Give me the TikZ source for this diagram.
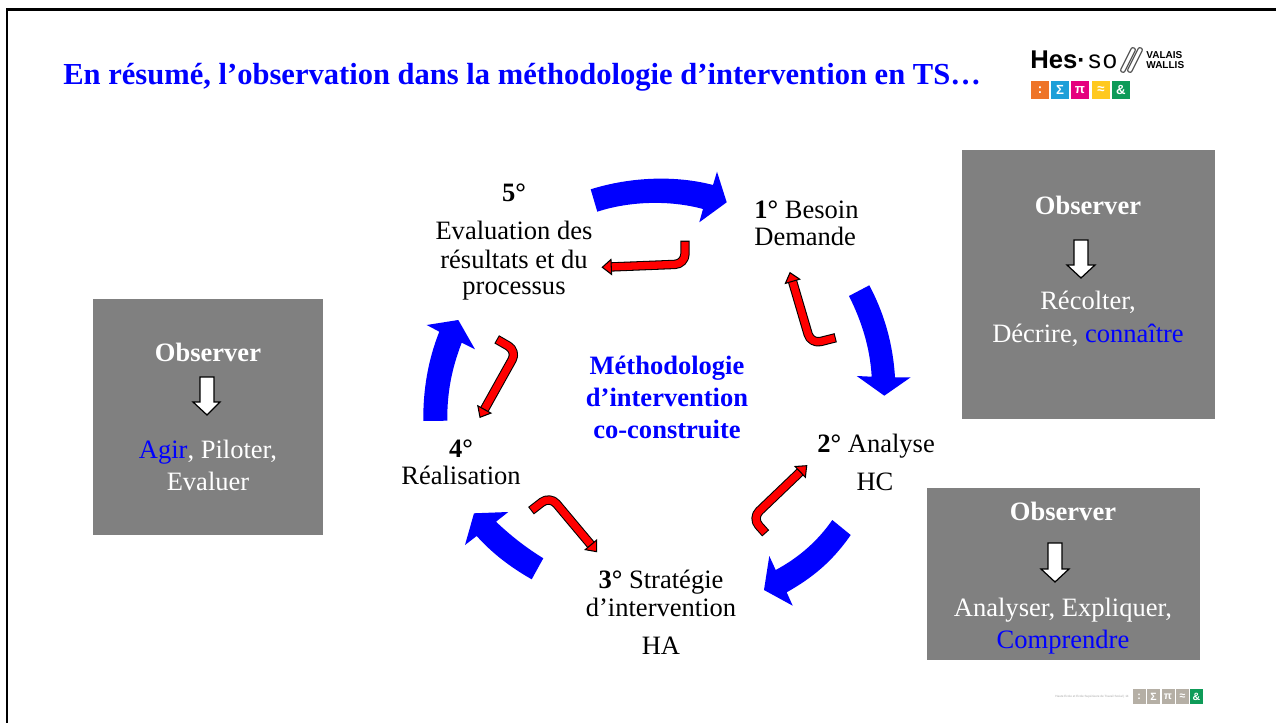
\documentclass[tikz,border=0pt]{standalone}
\usepackage{fontspec}
\setmainfont{Liberation Serif}
\newfontfamily\logofont{Liberation Sans}
\newfontfamily\logowide[LetterSpace=7]{Liberation Sans}
\usetikzlibrary{calc}
\definecolor{boxgray}{HTML}{808080}
\definecolor{pureblue}{HTML}{0000FF}
\definecolor{lo}{HTML}{EE7428}
\definecolor{lb}{HTML}{1E9FD8}
\definecolor{lm}{HTML}{E5007E}
\definecolor{ly}{HTML}{FFC91E}
\definecolor{lg}{HTML}{0E9B58}
\definecolor{fg}{HTML}{B5AFA5}
\tikzset{
  x=0.02cm,y=-0.02cm,
  lbl/.style={align=center,text=black,inner sep=0,anchor=base,font=\fontsize{15.1}{18}\selectfont},
  boxtxt/.style={align=center,text=white,inner sep=0,anchor=base,font=\fontsize{15.1}{18}\selectfont},
  boxhead/.style={boxtxt,font=\bfseries\fontsize{15.1}{18}\selectfont},
  midtxt/.style={align=center,inner sep=0,anchor=base,text=pureblue,font=\bfseries\fontsize{15.1}{18}\selectfont},
  graybox/.style={fill=boxgray,draw=none},
  bluearrow/.style={fill=pureblue,draw=none},
  whitearrow/.style={fill=white,draw=black,line width=0.7pt,line join=miter},
  sq/.style={minimum size=0.36cm,inner sep=0,text=white,font=\logofont\bfseries\fontsize{7.5}{7.5}\selectfont},
  fsq/.style={minimum width=0.26cm,minimum height=0.3cm,inner sep=0,text=white,font=\logofont\bfseries\fontsize{6}{6}\selectfont},
  clip/.style={draw=black!65,line width=0.7pt,rounded corners=0.04cm},
}
\newcommand{\redarrow}[4]{% name tail corner tip
  \coordinate (#1a) at #2; \coordinate (#1b) at #3; \coordinate (#1c) at #4;
  \coordinate (#1h) at ($(#1c)!{9*0.5669pt}!(#1b)$);
  \coordinate (#1p) at ($(#1h)!{7.5*0.5669pt}!90:(#1c)$);
  \coordinate (#1q) at ($(#1h)!{7.5*0.5669pt}!-90:(#1c)$);
  \draw[black,line width=9.4*0.5669pt,rounded corners=0.2cm,line join=round] (#1a)--(#1b)--(#1h);
  \draw[red,line width=7.3*0.5669pt,rounded corners=0.2cm,shorten <=0.6pt] (#1a)--(#1b)--(#1h);
  \fill[red,draw=black,line width=0.6pt,line join=miter] (#1p)--(#1c)--(#1q)--cycle;
}
\begin{document}
\begin{tikzpicture}
\useasboundingbox (0,0) rectangle (1276,723);
\fill[white] (0,0) rectangle (1276,723);
% frame
\draw[black,line width=1.5pt] (7,723)--(7,9.3)--(1276,9.3);
% title
\node[anchor=base west,inner sep=0,text=pureblue,font=\bfseries\fontsize{17.39}{20}\selectfont] (title) at (63,85) {En résumé, l’observation dans la méthodologie d’intervention en TS…};
% logo
\node[anchor=base west,inner sep=0,font=\logofont\bfseries\fontsize{14.6}{15}\selectfont] (hes) at (1030,69) {Hes};
\node[anchor=base west,inner sep=0,font=\logofont\bfseries\fontsize{14}{15}\selectfont] (dot) at (1077,69) {·};
\node[anchor=base west,inner sep=0,font=\logowide\fontsize{14.5}{15}\selectfont] (so) at (1088,69) {so};
\draw[clip] (1120,71)--(1132,47)--(1136,49)--(1124,73)--cycle;
\draw[clip] (1127,71)--(1139,47)--(1143,49)--(1131,73)--cycle;
\node[anchor=west,inner sep=0,align=left,font=\logofont\bfseries\fontsize{5.7}{5.6}\selectfont] (va) at (1146,60) {VALAIS\\WALLIS};
\node[sq,fill=lo] (s1) at (1040,90) {:};
\node[sq,fill=lb] (s2) at (1060,90) {Σ};
\node[sq,fill=lm] (s3) at (1080,90) {π};
\node[sq,fill=ly] (s4) at (1101,90) {≈};
\node[sq,fill=lg] (s5) at (1121,90) {\&};
% footer
\node[inner sep=0,anchor=east,text=black!35,font=\logofont\fontsize{1.73}{2}\selectfont] (ft) at (1129,697) {Haute Ecole et Ecole Supérieure de Travail Social | 14};
\node[fsq,fill=fg] (f1) at (1139,696.5) {:};
\node[fsq,fill=fg] (f2) at (1153.5,696.5) {Σ};
\node[fsq,fill=fg] (f3) at (1168,696.5) {π};
\node[fsq,fill=fg] (f4) at (1182.5,696.5) {≈};
\node[fsq,fill=lg] (f5) at (1196.5,696.5) {\&};
% gray boxes
\fill[graybox] (93,299) rectangle (323,535);
\fill[graybox] (962,150) rectangle (1215,419);
\fill[graybox] (927,488) rectangle (1200,660);
% box texts
\node[boxhead] (o1) at (208,361.5) {Observer};
\node[boxtxt] (t1a) at (208,458) {\textcolor{pureblue}{Agir}, Piloter,};
\node[boxtxt] (t1b) at (208,490) {Evaluer};
\node[boxhead] (o2) at (1088,214.5) {Observer};
\node[boxtxt] (t2a) at (1088,310) {Récolter,};
\node[boxtxt] (t2b) at (1088,342) {Décrire, \textcolor{pureblue}{connaître}};
\node[boxhead] (o3) at (1063,520) {Observer};
\node[boxtxt] (t3a) at (1063,616) {Analyser, Expliquer,};
\node[boxtxt] (t3b) at (1063,648) {\textcolor{pureblue}{Comprendre}};
% white arrows
\draw[whitearrow] (200,377)--(214,377)--(214,402)--(220,402)--(207,415)--(193,402)--(200,402)--cycle;
\draw[whitearrow] (1074,240)--(1088,240)--(1088,265)--(1095,265)--(1081,278)--(1067,265)--(1074,265)--cycle;
\draw[whitearrow] (1048,543)--(1062,543)--(1062,569)--(1069,569)--(1055,582)--(1041,569)--(1048,569)--cycle;
% labels
\node[lbl] (n5a) at (514,202) {\textbf{5°}};
\node[lbl] (n5b) at (514,239) {Evaluation des};
\node[lbl] (n5c) at (514,268.5) {résultats et du};
\node[lbl] (n5d) at (514,295) {processus};
\node[lbl,anchor=base west] (n1a) at (754,218) {\textbf{1°} Besoin};
\node[lbl,anchor=base west] (n1b) at (754,246) {Demande};
\node[lbl,anchor=base west] (n2a) at (817,452) {\textbf{2°} Analyse};
\node[lbl] (n2b) at (875,490) {HC};
\node[lbl] (n3a) at (661,588) {\textbf{3°} Stratégie};
\node[lbl] (n3b) at (661,616) {d’intervention};
\node[lbl] (n3c) at (661,654) {HA};
\node[lbl] (n4a) at (461,457.7) {\textbf{4°}};
\node[lbl] (n4b) at (461,484) {Réalisation};
\node[midtxt] (c1) at (667,374) {Méthodologie};
\node[midtxt] (c2) at (667,406) {d’intervention};
\node[midtxt] (c3) at (667,438) {co-construite};
% blue arrows
\fill[bluearrow] (590.7,189.3) .. controls (630,177) and (675,175) .. (713,185) -- (717,171.7) -- (726.7,202.3) -- (699.3,222.3) -- (703,209) .. controls (670,200) and (630,201) .. (597.3,211.7) -- cycle;
\fill[bluearrow] (869.3,285.3) .. controls (885,315) and (893,345) .. (895,377.3) -- (910.7,377.3) -- (884.3,395.7) -- (856.7,376) -- (871.7,376.7) .. controls (870,348) and (862,322) .. (849,296) -- cycle;
\fill[bluearrow] (850.7,535) .. controls (832,562) and (812,578) .. (786.7,592.3) -- (792.7,605.7) -- (764,590) -- (769.3,556) -- (775.7,570) .. controls (798,558) and (817,542) .. (832.3,520) -- cycle;
\fill[bluearrow] (543.3,558.3) .. controls (525,547) and (510,535) .. (496,521.7) -- (508.3,512) -- (474,513.3) -- (465,545) -- (476.7,536) .. controls (492,553) and (510,567) .. (531.7,579.3) -- cycle;
\fill[bluearrow] (423.3,421) .. controls (423,390) and (428,360) .. (439.3,331.7) -- (426.7,325) -- (458.3,320) -- (475,349.3) -- (461.7,342.7) .. controls (452,368) and (447,392) .. (447.3,420.7) -- cycle;
% red arrows
\redarrow{ra}{(685,240.7)}{(685,264)}{(602.3,267.3)}
\redarrow{rb}{(835.7,337.7)}{(811,344)}{(790,272.7)}
\redarrow{rc}{(765.7,533.3)}{(752,518)}{(806.7,465.7)}
\redarrow{rd}{(496.7,339.3)}{(517,351)}{(480,417.3)}
\redarrow{re}{(531,510.7)}{(550,496)}{(596.7,551.7)}
\end{tikzpicture}
\end{document}
